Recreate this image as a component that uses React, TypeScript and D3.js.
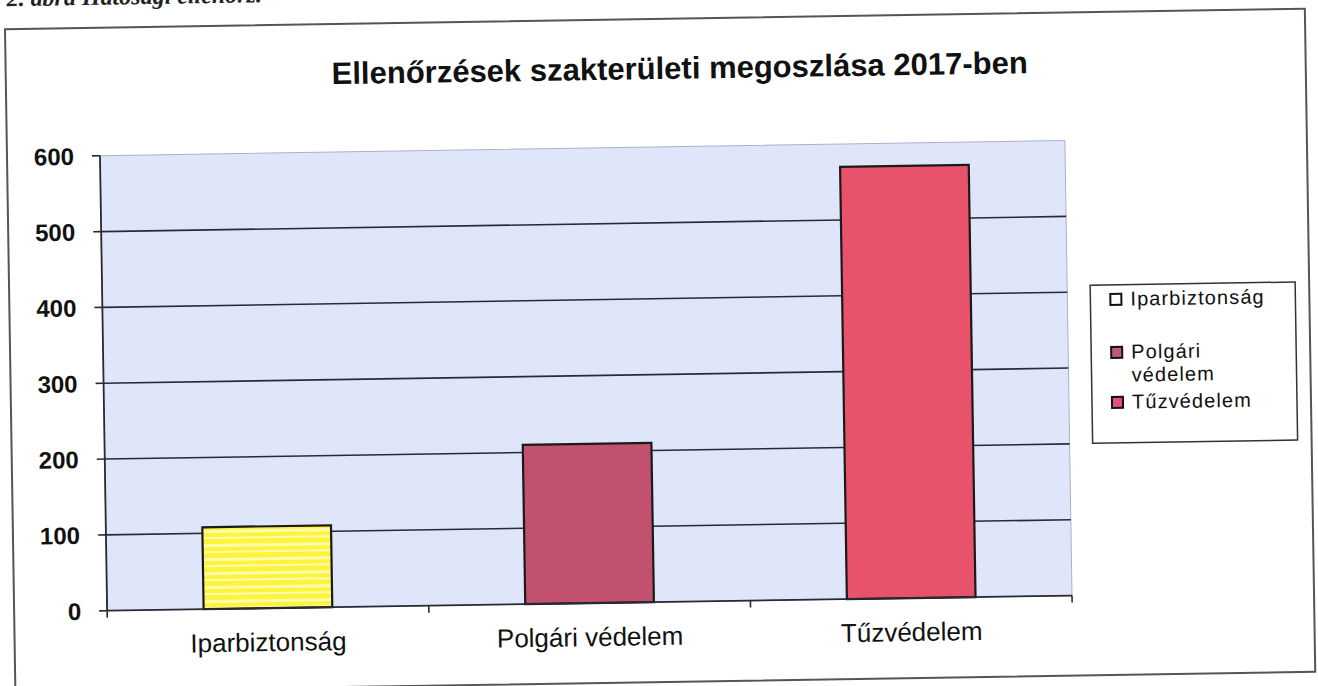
import React from "react";
import * as d3 from "d3";

const categories = ["Iparbiztonság", "Polgári védelem", "Tűzvédelem"];
const values = [108, 210, 570];
const yTicks = [0, 100, 200, 300, 400, 500, 600];
const legendLabels = [["Iparbiztonság"], ["Polgári", "védelem"], ["Tűzvédelem"]];
const barColors = ["url(#yellowStripes)", "#c2506f", "#e8526a"];
const legendColors = ["#ffffff", "#c05a7c", "#e2507c"];
const title = "Ellenőrzések szakterületi megoszlása 2017-ben";
const caption = "2. ábra Hatósági ellenőrz.";

const W = 1318;
const H = 686;
const plot = { left: 103, right: 1068, top: 147, bottom: 602 };
const font = "'Liberation Sans', Arial, sans-serif";

export default function App() {
  const x = d3
    .scaleBand<string>()
    .domain(categories)
    .range([plot.left, plot.right])
    .paddingInner(0.6)
    .paddingOuter(0.3);
  const y = d3.scaleLinear().domain([0, 600]).range([plot.bottom, plot.top]);
  const boundaries = d3.range(categories.length + 1).map((i) => plot.left + i * ((plot.right - plot.left) / categories.length));

  const legendY = [313, 366, 416];

  return (
    <svg width={W} height={H} style={{ position: "absolute", left: 0, top: 0, background: "#fff" }}>
      <defs>
        <pattern id="yellowStripes" patternUnits="userSpaceOnUse" width="8" height="14">
          <rect width="8" height="14" fill="#fff43a" />
          <rect y="5" width="8" height="3" fill="#fffbb0" />
          <rect y="12" width="8" height="2" fill="#fffbb8" />
        </pattern>
      </defs>
      <rect width={W} height={H} fill="#ffffff" />
      <g transform="rotate(-0.9 659 343)">
        <text x={12} y={-4} fontFamily="'Liberation Serif', 'Times New Roman', serif" fontStyle="italic" fontWeight="bold" fontSize={24} fill="#222">
          {caption}
        </text>
        <rect x={10} y={19} width={1300} height={663} fill="#fff" stroke="#555" strokeWidth={2} />
        <text x={684} y={79} textAnchor="middle" fontFamily={font} fontWeight="bold" fontSize={31} fill="#111">
          {title}
        </text>
        <rect x={plot.left} y={plot.top} width={plot.right - plot.left} height={plot.bottom - plot.top} fill="#dfe6fa" stroke="#aab0cc" strokeWidth={1} />
        {yTicks.map((t) => (
          <g key={t}>
            {t > 0 && t < 600 && (
              <line x1={plot.left} x2={plot.right} y1={y(t)} y2={y(t)} stroke="#2a2a35" strokeWidth={1.6} />
            )}
            <line x1={plot.left - 8} x2={plot.left} y1={y(t)} y2={y(t)} stroke="#2a2a35" strokeWidth={1.6} />
            <text x={plot.left - 26} y={y(t)} dy="0.36em" textAnchor="end" fontFamily={font} fontWeight="bold" fontSize={24} fill="#111">
              {t}
            </text>
          </g>
        ))}
        {categories.map((c, i) => (
          <rect key={c} x={x(c)} y={y(values[i])} width={x.bandwidth()} height={y(0) - y(values[i])} fill={barColors[i]} stroke="#1a1a1a" strokeWidth={2.2} />
        ))}
        <line x1={plot.left} x2={plot.left} y1={plot.top} y2={plot.bottom} stroke="#2a2a35" strokeWidth={1.8} />
        <line x1={plot.left} x2={plot.right} y1={plot.bottom} y2={plot.bottom} stroke="#2a2a35" strokeWidth={1.8} />
        {boundaries.map((b, i) => (
          <line key={i} x1={b} x2={b} y1={plot.bottom} y2={plot.bottom + 7} stroke="#2a2a35" strokeWidth={1.6} />
        ))}
        {categories.map((c) => (
          <text key={c} x={(x(c) as number) + x.bandwidth() / 2} y={645} textAnchor="middle" fontFamily={font} fontSize={26} fill="#111">
            {c}
          </text>
        ))}
        <rect x={1091} y={292} width={205} height={158} fill="#fff" stroke="#333" strokeWidth={1.5} />
        {legendLabels.map((lines, i) => (
          <g key={i}>
            <rect x={1111} y={legendY[i] - 12} width={11} height={11} fill={legendColors[i]} stroke="#111" strokeWidth={2} />
            {lines.map((l, j) => (
              <text key={j} x={1131} y={legendY[i] + j * 23} fontFamily={font} fontSize={20} letterSpacing={1.1} fill="#111">
                {l}
              </text>
            ))}
          </g>
        ))}
      </g>
    </svg>
  );
}
